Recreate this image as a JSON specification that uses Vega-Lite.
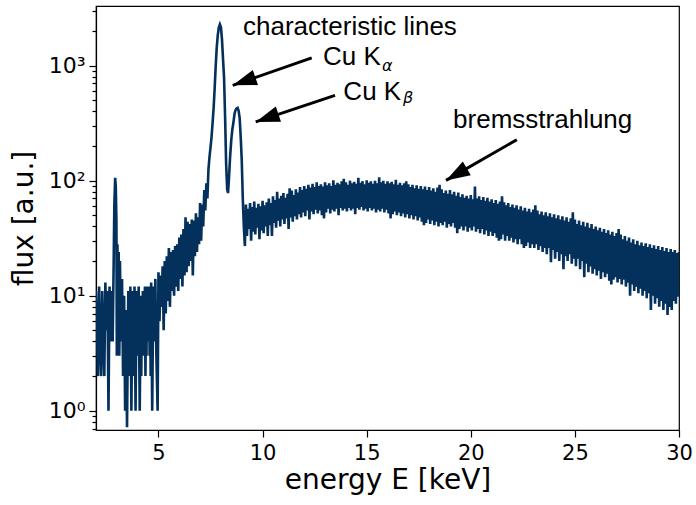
{
  "$schema": "https://vega.github.io/schema/vega-lite/v6.json",
  "width": 583,
  "height": 424,
  "autosize": "none",
  "padding": {"left": 96, "top": 6, "right": 17, "bottom": 75},
  "config": {
    "view": {"stroke": "black", "strokeWidth": 1.2},
    "axis": {
      "domainColor": "black", "domainWidth": 1.2, "tickColor": "black", "tickWidth": 1.2,
      "labelColor": "black", "titleColor": "black", "labelFont": "DejaVu Sans", "titleFont": "DejaVu Sans",
      "labelFontSize": 21, "titleFontSize": 28, "titleFontWeight": "normal", "grid": false,
      "labelFlush": false, "labelBound": false, "labelOverlap": false
    }
  },
  "encoding": {
    "x": {"field": "E", "type": "quantitative",
      "scale": {"domain": [2, 30], "nice": false, "zero": false},
      "axis": {"title": "energy E [keV]", "values": [5, 10, 15, 20, 25, 30], "tickSize": 7, "labelPadding": 5, "titlePadding": 3}},
    "y": {"field": "f", "type": "quantitative",
      "scale": {"type": "log", "domain": [0.68, 3300], "nice": false},
      "axis": {"title": "flux [a.u.]",
        "values": [0.7, 0.8, 0.9, 1, 2, 3, 4, 5, 6, 7, 8, 9, 10, 20, 30, 40, 50, 60, 70, 80, 90, 100, 200, 300, 400, 500, 600, 700, 800, 900, 1000, 2000, 3000],
        "labelExpr": "datum.value === 1 ? '10⁰' : datum.value === 10 ? '10¹' : datum.value === 100 ? '10²' : datum.value === 1000 ? '10³' : ''",
        "labelFontSize": 22,
        "tickSize": {"condition": {"test": "datum.value === 1 || datum.value === 10 || datum.value === 100 || datum.value === 1000", "value": 7}, "value": 4},
        "labelPadding": 4, "titlePadding": 10}}
  },
  "layer": [
    {
      "data": {"values": [
        {"E":2.00,"f":11},{"E":2.05,"f":5},{"E":2.10,"f":2},{"E":2.15,"f":12},{"E":2.20,"f":4},{"E":2.25,"f":2},{"E":2.30,"f":11},{"E":2.35,"f":4},{"E":2.40,"f":2},{"E":2.45,"f":13},{"E":2.50,"f":5},{"E":2.55,"f":11},{"E":2.60,"f":1},{"E":2.65,"f":12},{"E":2.70,"f":4},{"E":2.75,"f":11},{"E":2.80,"f":4},
        {"E":2.85,"f":20},{"E":2.88,"f":60},{"E":2.92,"f":106},{"E":2.95,"f":90},{"E":2.98,"f":45},{"E":3.00,"f":3},{"E":3.03,"f":28},{"E":3.06,"f":5},{"E":3.09,"f":24},{"E":3.12,"f":3},{"E":3.15,"f":20},{"E":3.20,"f":4},{"E":3.25,"f":14},{"E":3.30,"f":2},{"E":3.35,"f":10},{"E":3.40,"f":1},{"E":3.44,"f":7.5},{"E":3.49,"f":0.72},{"E":3.55,"f":11},{"E":3.575,"f":3},{"E":3.60,"f":9},{"E":3.625,"f":2},{"E":3.65,"f":12},{"E":3.70,"f":1},{"E":3.75,"f":11},{"E":3.775,"f":3},{"E":3.80,"f":9},{"E":3.825,"f":2},{"E":3.85,"f":12},{"E":3.90,"f":1},{"E":3.95,"f":11},{"E":4.00,"f":3},{"E":4.05,"f":12},{"E":4.10,"f":1},{"E":4.15,"f":10},{"E":4.175,"f":2},{"E":4.20,"f":8},{"E":4.225,"f":3},{"E":4.25,"f":11},{"E":4.30,"f":3},{"E":4.35,"f":12},{"E":4.375,"f":2},{"E":4.40,"f":9},{"E":4.425,"f":3},{"E":4.45,"f":12},{"E":4.50,"f":4},{"E":4.55,"f":12},{"E":4.575,"f":3},{"E":4.60,"f":10},{"E":4.625,"f":2},{"E":4.65,"f":13},{"E":4.70,"f":1},{"E":4.75,"f":12},{"E":4.80,"f":4},{"E":4.85,"f":14},{"E":4.90,"f":3},{"E":4.96,"f":1},{"E":5.00,"f":16},{"E":5.05,"f":6},{"E":5.10,"f":15},{"E":5.15,"f":8},{"E":5.20,"f":18},{"E":5.25,"f":5},{"E":5.30,"f":20},{"E":5.35,"f":7},{"E":5.40,"f":22},{"E":5.45,"f":9},{"E":5.50,"f":26},{"E":5.55,"f":8},{"E":5.60,"f":24},{"E":5.65,"f":11},{"E":5.70,"f":25},{"E":5.75,"f":10},{"E":5.80,"f":27},{"E":5.85,"f":12},{"E":5.90,"f":28},{"E":5.95,"f":11},{"E":6.00,"f":32},{"E":6.05,"f":14},{"E":6.10,"f":34},{"E":6.15,"f":12},{"E":6.20,"f":38},{"E":6.25,"f":15},{"E":6.30,"f":48},{"E":6.35,"f":16},{"E":6.40,"f":44},{"E":6.45,"f":18},{"E":6.50,"f":42},{"E":6.55,"f":20},{"E":6.60,"f":46},{"E":6.65,"f":15},{"E":6.70,"f":45},{"E":6.75,"f":22},{"E":6.80,"f":52},{"E":6.85,"f":24},{"E":6.90,"f":48},{"E":6.95,"f":28},{"E":7.00,"f":64},{"E":7.05,"f":30},{"E":7.10,"f":62},{"E":7.15,"f":40},{"E":7.20,"f":83},{"E":7.25,"f":55},{"E":7.30,"f":95},{"E":7.35,"f":70},
        {"E":7.40,"f":125},{"E":7.45,"f":160},{"E":7.50,"f":195},{"E":7.55,"f":240},{"E":7.60,"f":320},{"E":7.65,"f":430},{"E":7.70,"f":640},{"E":7.75,"f":1000},{"E":7.80,"f":1450},{"E":7.85,"f":1850},{"E":7.90,"f":2150},{"E":7.95,"f":2280},{"E":8.00,"f":2150},{"E":8.05,"f":1700},{"E":8.10,"f":1150},{"E":8.15,"f":790},{"E":8.20,"f":360},{"E":8.25,"f":140},{"E":8.30,"f":84},{"E":8.34,"f":78},{"E":8.38,"f":100},{"E":8.44,"f":160},{"E":8.50,"f":230},{"E":8.55,"f":280},{"E":8.60,"f":320},{"E":8.65,"f":380},{"E":8.70,"f":410},{"E":8.75,"f":425},{"E":8.80,"f":430},{"E":8.85,"f":405},{"E":8.90,"f":350},{"E":8.95,"f":240},{"E":9.00,"f":150},{"E":9.05,"f":70},{"E":9.10,"f":40},{"E":9.15,"f":27},
        {"E":9.20,"f":62},{"E":9.25,"f":33},{"E":9.30,"f":57},{"E":9.35,"f":38},{"E":9.40,"f":64},{"E":9.45,"f":30},{"E":9.50,"f":59},{"E":9.55,"f":36},{"E":9.60,"f":66},{"E":9.65,"f":34},{"E":9.70,"f":58},{"E":9.75,"f":39},{"E":9.80,"f":63},{"E":9.85,"f":31},{"E":9.90,"f":60},{"E":9.95,"f":37},
        {"E":10.00,"f":67},{"E":10.05,"f":35},{"E":10.10,"f":61},{"E":10.15,"f":40},{"E":10.20,"f":65},{"E":10.25,"f":33},{"E":10.30,"f":70},{"E":10.35,"f":41},{"E":10.40,"f":64},{"E":10.45,"f":33},{"E":10.50,"f":73},{"E":10.55,"f":43},{"E":10.60,"f":68},{"E":10.65,"f":39},{"E":10.70,"f":80},{"E":10.75,"f":45},{"E":10.80,"f":70},{"E":10.85,"f":40},{"E":10.90,"f":74},{"E":10.95,"f":46},
        {"E":11.00,"f":78},{"E":11.05,"f":42},{"E":11.10,"f":71},{"E":11.15,"f":47},{"E":11.20,"f":77},{"E":11.25,"f":38},{"E":11.30,"f":86},{"E":11.35,"f":48},{"E":11.40,"f":82},{"E":11.45,"f":44},{"E":11.50,"f":75},{"E":11.55,"f":49},{"E":11.60,"f":84},{"E":11.65,"f":46},{"E":11.70,"f":79},{"E":11.75,"f":51},{"E":11.80,"f":88},{"E":11.85,"f":48},{"E":11.90,"f":83},{"E":11.95,"f":53},
        {"E":12.00,"f":90},{"E":12.05,"f":49},{"E":12.10,"f":85},{"E":12.15,"f":55},{"E":12.20,"f":92},{"E":12.25,"f":46},{"E":12.30,"f":87},{"E":12.35,"f":54},{"E":12.40,"f":94},{"E":12.45,"f":51},{"E":12.50,"f":88},{"E":12.55,"f":56},{"E":12.60,"f":97},{"E":12.65,"f":52},{"E":12.70,"f":90},{"E":12.75,"f":55},{"E":12.80,"f":93},{"E":12.85,"f":50},{"E":12.90,"f":89},{"E":12.95,"f":47},
        {"E":13.00,"f":97},{"E":13.05,"f":53},{"E":13.10,"f":91},{"E":13.15,"f":57},{"E":13.20,"f":95},{"E":13.25,"f":52},{"E":13.30,"f":90},{"E":13.35,"f":56},{"E":13.40,"f":101},{"E":13.45,"f":54},{"E":13.50,"f":92},{"E":13.55,"f":57},{"E":13.60,"f":96},{"E":13.65,"f":50},{"E":13.70,"f":93},{"E":13.75,"f":58},{"E":13.80,"f":99},{"E":13.85,"f":55},{"E":13.90,"f":104},{"E":13.95,"f":57},
        {"E":14.00,"f":97},{"E":14.05,"f":54},{"E":14.10,"f":92},{"E":14.15,"f":58},{"E":14.20,"f":100},{"E":14.25,"f":55},{"E":14.30,"f":95},{"E":14.35,"f":57},{"E":14.40,"f":98},{"E":14.45,"f":51},{"E":14.50,"f":94},{"E":14.55,"f":58},{"E":14.60,"f":106},{"E":14.65,"f":56},{"E":14.70,"f":96},{"E":14.75,"f":59},{"E":14.80,"f":99},{"E":14.85,"f":55},{"E":14.90,"f":93},{"E":14.95,"f":57},
        {"E":15.00,"f":101},{"E":15.05,"f":54},{"E":15.10,"f":96},{"E":15.15,"f":58},{"E":15.20,"f":99},{"E":15.25,"f":55},{"E":15.30,"f":94},{"E":15.35,"f":57},{"E":15.40,"f":100},{"E":15.45,"f":53},{"E":15.50,"f":95},{"E":15.55,"f":56},{"E":15.60,"f":107},{"E":15.65,"f":54},{"E":15.70,"f":97},{"E":15.75,"f":57},{"E":15.80,"f":100},{"E":15.85,"f":53},{"E":15.90,"f":94},{"E":15.95,"f":56},
        {"E":16.00,"f":99},{"E":16.05,"f":52},{"E":16.10,"f":95},{"E":16.15,"f":47},{"E":16.20,"f":98},{"E":16.25,"f":51},{"E":16.30,"f":93},{"E":16.35,"f":54},{"E":16.40,"f":102},{"E":16.45,"f":50},{"E":16.50,"f":92},{"E":16.55,"f":53},{"E":16.60,"f":96},{"E":16.65,"f":49},{"E":16.70,"f":91},{"E":16.75,"f":52},{"E":16.80,"f":95},{"E":16.85,"f":48},{"E":16.90,"f":99},{"E":16.95,"f":51},
        {"E":17.00,"f":93},{"E":17.05,"f":47},{"E":17.10,"f":88},{"E":17.15,"f":50},{"E":17.20,"f":92},{"E":17.25,"f":46},{"E":17.30,"f":86},{"E":17.35,"f":49},{"E":17.40,"f":91},{"E":17.45,"f":45},{"E":17.50,"f":85},{"E":17.55,"f":48},{"E":17.60,"f":90},{"E":17.65,"f":44},{"E":17.70,"f":84},{"E":17.75,"f":41},{"E":17.80,"f":89},{"E":17.85,"f":43},{"E":17.90,"f":83},{"E":17.95,"f":46},
        {"E":18.00,"f":88},{"E":18.05,"f":42},{"E":18.10,"f":82},{"E":18.15,"f":45},{"E":18.20,"f":86},{"E":18.25,"f":41},{"E":18.30,"f":80},{"E":18.35,"f":44},{"E":18.40,"f":87},{"E":18.45,"f":40},{"E":18.50,"f":92},{"E":18.55,"f":43},{"E":18.60,"f":84},{"E":18.65,"f":41},{"E":18.70,"f":78},{"E":18.75,"f":44},{"E":18.80,"f":82},{"E":18.85,"f":39},{"E":18.90,"f":77},{"E":18.95,"f":42},
        {"E":19.00,"f":83},{"E":19.05,"f":40},{"E":19.10,"f":76},{"E":19.15,"f":43},{"E":19.20,"f":80},{"E":19.25,"f":39},{"E":19.30,"f":74},{"E":19.35,"f":35},{"E":19.40,"f":79},{"E":19.45,"f":38},{"E":19.50,"f":72},{"E":19.55,"f":40},{"E":19.60,"f":76},{"E":19.65,"f":37},{"E":19.70,"f":71},{"E":19.75,"f":40},{"E":19.80,"f":74},{"E":19.85,"f":36},{"E":19.90,"f":70},{"E":19.95,"f":39},
        {"E":20.00,"f":75},{"E":20.05,"f":37},{"E":20.10,"f":69},{"E":20.15,"f":40},{"E":20.20,"f":89},{"E":20.25,"f":36},{"E":20.30,"f":70},{"E":20.35,"f":38},{"E":20.40,"f":73},{"E":20.45,"f":35},{"E":20.50,"f":68},{"E":20.55,"f":38},{"E":20.60,"f":72},{"E":20.65,"f":34},{"E":20.70,"f":67},{"E":20.75,"f":37},{"E":20.80,"f":71},{"E":20.85,"f":33},{"E":20.90,"f":66},{"E":20.95,"f":36},
        {"E":21.00,"f":69},{"E":21.05,"f":33},{"E":21.10,"f":64},{"E":21.15,"f":35},{"E":21.20,"f":68},{"E":21.25,"f":32},{"E":21.30,"f":63},{"E":21.35,"f":30},{"E":21.40,"f":66},{"E":21.45,"f":31},{"E":21.50,"f":73},{"E":21.55,"f":34},{"E":21.60,"f":65},{"E":21.65,"f":30},{"E":21.70,"f":61},{"E":21.75,"f":33},{"E":21.80,"f":64},{"E":21.85,"f":30},{"E":21.90,"f":59},{"E":21.95,"f":32},
        {"E":22.00,"f":62},{"E":22.05,"f":29},{"E":22.10,"f":58},{"E":22.15,"f":31},{"E":22.20,"f":61},{"E":22.25,"f":28},{"E":22.30,"f":56},{"E":22.35,"f":31},{"E":22.40,"f":60},{"E":22.45,"f":28},{"E":22.50,"f":55},{"E":22.55,"f":26},{"E":22.60,"f":58},{"E":22.65,"f":27},{"E":22.70,"f":54},{"E":22.75,"f":29},{"E":22.80,"f":57},{"E":22.85,"f":26},{"E":22.90,"f":53},{"E":22.95,"f":28},
        {"E":23.00,"f":56},{"E":23.05,"f":26},{"E":23.10,"f":61},{"E":23.15,"f":28},{"E":23.20,"f":55},{"E":23.25,"f":25},{"E":23.30,"f":51},{"E":23.35,"f":27},{"E":23.40,"f":54},{"E":23.45,"f":24},{"E":23.50,"f":50},{"E":23.55,"f":26},{"E":23.60,"f":53},{"E":23.65,"f":23},{"E":23.70,"f":49},{"E":23.75,"f":26},{"E":23.80,"f":52},{"E":23.85,"f":19.5},{"E":23.90,"f":48},{"E":23.95,"f":25},
        {"E":24.00,"f":51},{"E":24.05,"f":21},{"E":24.10,"f":47},{"E":24.15,"f":24},{"E":24.20,"f":50},{"E":24.25,"f":20},{"E":24.30,"f":46},{"E":24.35,"f":23},{"E":24.40,"f":49},{"E":24.45,"f":17},{"E":24.50,"f":45},{"E":24.55,"f":22},{"E":24.60,"f":48},{"E":24.65,"f":20},{"E":24.70,"f":44},{"E":24.75,"f":23},{"E":24.80,"f":47},{"E":24.85,"f":19},{"E":24.90,"f":53},{"E":24.95,"f":21},
        {"E":25.00,"f":46},{"E":25.05,"f":18},{"E":25.10,"f":42},{"E":25.15,"f":21},{"E":25.20,"f":45},{"E":25.25,"f":17},{"E":25.30,"f":41},{"E":25.35,"f":20},{"E":25.40,"f":44},{"E":25.45,"f":14.5},{"E":25.50,"f":40},{"E":25.55,"f":19},{"E":25.60,"f":43},{"E":25.65,"f":16},{"E":25.70,"f":39},{"E":25.75,"f":18},{"E":25.80,"f":42},{"E":25.85,"f":15.5},{"E":25.90,"f":38},{"E":25.95,"f":17},
        {"E":26.00,"f":40},{"E":26.05,"f":15},{"E":26.10,"f":37},{"E":26.15,"f":16.5},{"E":26.20,"f":39},{"E":26.25,"f":14},{"E":26.30,"f":36},{"E":26.35,"f":16},{"E":26.40,"f":38},{"E":26.45,"f":14.5},{"E":26.50,"f":35},{"E":26.55,"f":15.5},{"E":26.60,"f":37},{"E":26.65,"f":13.5},{"E":26.70,"f":34},{"E":26.75,"f":12.5},{"E":26.80,"f":36},{"E":26.85,"f":13.8},{"E":26.90,"f":33},{"E":26.95,"f":14.5},
        {"E":27.00,"f":35},{"E":27.05,"f":13},{"E":27.10,"f":38},{"E":27.15,"f":14},{"E":27.20,"f":34},{"E":27.25,"f":12.5},{"E":27.30,"f":31},{"E":27.35,"f":13.8},{"E":27.40,"f":33},{"E":27.45,"f":12},{"E":27.50,"f":30},{"E":27.55,"f":13},{"E":27.60,"f":32},{"E":27.65,"f":10},{"E":27.70,"f":29},{"E":27.75,"f":12.5},{"E":27.80,"f":31},{"E":27.85,"f":11},{"E":27.90,"f":28},{"E":27.95,"f":12},
        {"E":28.00,"f":30},{"E":28.05,"f":10.5},{"E":28.10,"f":27.5},{"E":28.15,"f":11.5},{"E":28.20,"f":29},{"E":28.25,"f":10},{"E":28.30,"f":27},{"E":28.35,"f":11},{"E":28.40,"f":28.5},{"E":28.45,"f":9.5},{"E":28.50,"f":26.5},{"E":28.55,"f":10.5},{"E":28.60,"f":28},{"E":28.65,"f":7.5},{"E":28.70,"f":26},{"E":28.75,"f":10},{"E":28.80,"f":27.5},{"E":28.85,"f":8.5},{"E":28.90,"f":25.5},{"E":28.95,"f":9.5},
        {"E":29.00,"f":27},{"E":29.05,"f":8},{"E":29.10,"f":25},{"E":29.15,"f":9},{"E":29.20,"f":26.5},{"E":29.25,"f":7.5},{"E":29.30,"f":24.5},{"E":29.35,"f":8.5},{"E":29.40,"f":26},{"E":29.45,"f":6.8},{"E":29.50,"f":24},{"E":29.55,"f":8},{"E":29.60,"f":25.5},{"E":29.65,"f":7.5},{"E":29.70,"f":24},{"E":29.75,"f":9},{"E":29.80,"f":25},{"E":29.85,"f":8.5},{"E":29.90,"f":23.5},{"E":29.95,"f":9.8},{"E":30.00,"f":24}
      ]},
      "mark": {"type": "line", "color": "#04305c", "strokeWidth": 2.6, "clip": true}
    },
    {
      "data": {"values": [
        {"name": "Ka", "E": 12.36, "f": 1167, "E2": 8.566, "f2": 674},
        {"name": "Kb", "E": 13.48, "f": 552, "E2": 9.67, "f2": 324},
        {"name": "brems", "E": 22.21, "f": 227, "E2": 18.81, "f2": 100.6}
      ]},
      "mark": {"type": "rule", "color": "black", "strokeWidth": 3},
      "encoding": {"x2": {"field": "E2"}, "y2": {"field": "f2"}}
    },
    {
      "data": {"values": [
        {"name": "Ka", "E": 8.566, "f": 674},
        {"name": "Kb", "E": 9.67, "f": 324}
      ]},
      "mark": {"type": "point", "shape": "M0,0L-0.8,2.4L0.8,2.4Z", "filled": true, "color": "black", "opacity": 1, "size": 400, "angle": 251},
      "encoding": {}
    },
    {
      "data": {"values": [
        {"name": "brems", "E": 18.81, "f": 100.6}
      ]},
      "mark": {"type": "point", "shape": "M0,0L-0.8,2.4L0.8,2.4Z", "filled": true, "color": "black", "opacity": 1, "size": 400, "angle": 240},
      "encoding": {}
    },
    {
      "data": {"values": [
        {"label": "characteristic lines", "E": 9.06, "f": 1860},
        {"label": "Cu K", "E": 12.90, "f": 1020},
        {"label": "Cu K", "E": 13.88, "f": 506},
        {"label": "bremsstrahlung", "E": 19.15, "f": 287}
      ]},
      "mark": {"type": "text", "font": "Liberation Sans", "fontSize": 26, "align": "left", "baseline": "alphabetic", "color": "black"},
      "encoding": {"text": {"field": "label"}}
    },
    {
      "data": {"values": [
        {"label": "α", "E": 15.74, "f": 905},
        {"label": "β", "E": 16.75, "f": 477}
      ]},
      "mark": {"type": "text", "font": "DejaVu Sans", "fontStyle": "italic", "fontSize": 16, "align": "left", "baseline": "alphabetic", "color": "black"},
      "encoding": {"text": {"field": "label"}}
    }
  ]
}
